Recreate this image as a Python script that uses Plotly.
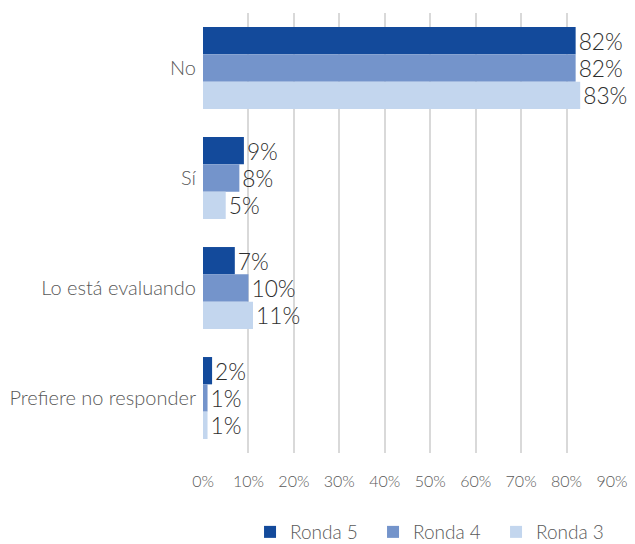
import plotly.graph_objects as go

categories = ["No", "Sí", "Lo está evaluando", "Prefiere no responder"]
series_names = ["Ronda 5", "Ronda 4", "Ronda 3"]
ronda5 = [82, 9, 7, 2]
ronda4 = [82, 8, 10, 1]
ronda3 = [83, 5, 11, 1]
tick_vals = [0, 10, 20, 30, 40, 50, 60, 70, 80, 90]

colors = ["#134A9B", "#7494CB", "#C3D6EE"]
font_family = "Lato, 'Open Sans', sans-serif"

fig = go.Figure()
for name, vals, col in zip(series_names, [ronda5, ronda4, ronda3], colors):
    fig.add_trace(go.Bar(
        y=categories,
        x=vals,
        name=name,
        orientation="h",
        marker=dict(color=col, line=dict(width=0)),
        text=[f"{v}%" for v in vals],
        textposition="outside",
        textfont=dict(size=25, color="#2E2E2E", family=font_family, weight=300),
        cliponaxis=False,
    ))

fig.update_layout(
    width=635,
    height=544,
    barmode="group",
    bargap=0.255,
    bargroupgap=0,
    plot_bgcolor="white",
    paper_bgcolor="white",
    margin=dict(l=203, r=23, t=13, b=91, autoexpand=False),
    font=dict(family=font_family, color="#595959", weight=300),
    xaxis=dict(
        range=[0, 90],
        tickvals=tick_vals,
        ticktext=[f"{v}%" for v in tick_vals],
        showgrid=True,
        gridcolor="#D9D9D9",
        gridwidth=2,
        zeroline=False,
        showline=False,
        ticks="outside",
        ticklen=14,
        tickcolor="rgba(0,0,0,0)",
        tickfont=dict(size=16, color="#595959", weight=300),
    ),
    yaxis=dict(
        autorange="reversed",
        showgrid=False,
        showline=False,
        ticks="outside",
        ticklen=2,
        tickcolor="rgba(0,0,0,0)",
        tickfont=dict(size=20, color="#595959", weight=300),
    ),
    legend=dict(
        orientation="h",
        x=0.115,
        xanchor="left",
        yref="container",
        y=0.022,
        yanchor="middle",
        font=dict(size=19, color="#595959", weight=300),
        itemwidth=30,
        entrywidth=78,
        entrywidthmode="pixels",
        traceorder="normal",
    ),
)

fig.write_html("out.html")
